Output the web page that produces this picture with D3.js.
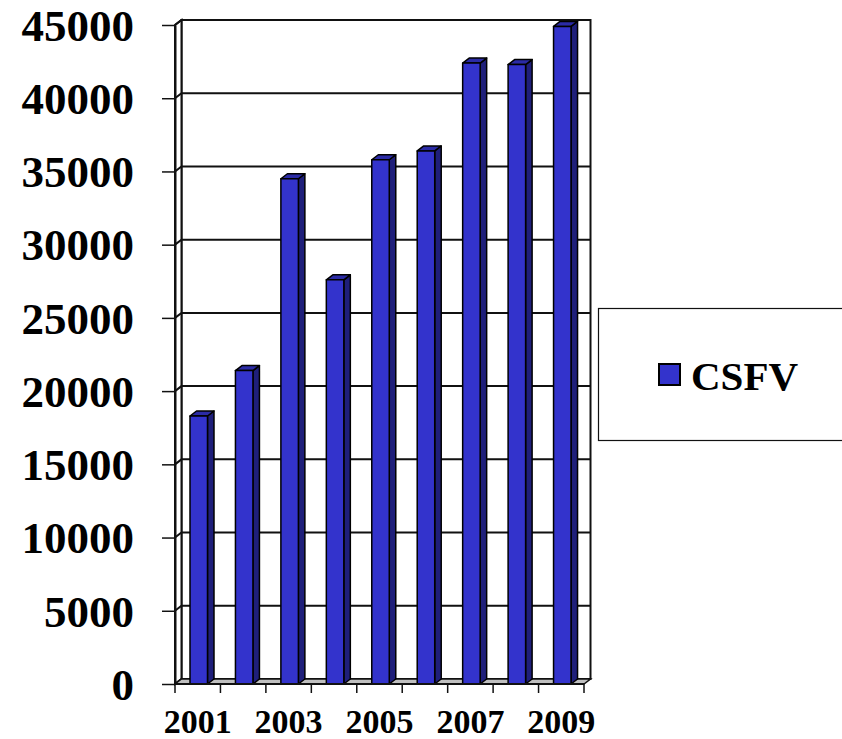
<!DOCTYPE html>
<html>
<head>
<meta charset="utf-8">
<script src="https://cdn.jsdelivr.net/npm/d3@7"></script>
<style>
  html, body { margin: 0; padding: 0; background: #fff; }
  svg { display: block; }
  text { font-family: "Liberation Serif", "Times New Roman", serif; font-weight: bold; fill: #000; }
</style>
</head>
<body>
<svg id="chart" width="842" height="739"></svg>
<script>
// Yearly counts, one bar per year
const years = ["2001", "2002", "2003", "2004", "2005", "2006", "2007", "2008", "2009"];
const values = [18300, 21400, 34500, 27600, 35800, 36400, 42400, 42300, 44900];
const yTicks = [0, 5000, 10000, 15000, 20000, 25000, 30000, 35000, 40000, 45000];
const xTickLabels = ["2001", "2003", "2005", "2007", "2009"];
const seriesName = "CSFV";

const svg = d3.select("#chart");

// plot geometry: front plane plus a shallow depth offset
const plotLeft = 175, plotRight = 584, plotBottom = 684, plotTop = 25;
const dx = 6.5, dy = -5;

const x = d3.scaleBand().domain(years).range([plotLeft, plotRight]).paddingInner(0).paddingOuter(0);
const y = d3.scaleLinear().domain([0, 45000]).range([plotBottom, plotTop]);

const frontCol = "#3333cc", sideCol = "#1f1f7a", topCol = "#2b2ba6";
const line = d3.line();

// back wall
svg.append("rect")
  .attr("x", plotLeft + dx).attr("y", plotTop + dy)
  .attr("width", plotRight - plotLeft).attr("height", plotBottom - plotTop)
  .attr("fill", "#fff").attr("stroke", "#111").attr("stroke-width", 2);

// left side wall
svg.append("path")
  .attr("d", line([[plotLeft, plotBottom], [plotLeft, plotTop], [plotLeft + dx, plotTop + dy], [plotLeft + dx, plotBottom + dy]]) + "Z")
  .attr("fill", "#fff").attr("stroke", "#111").attr("stroke-width", 2);

// gridlines on the side wall and back wall
const grid = svg.append("g").attr("stroke", "#111").attr("stroke-width", 2).attr("fill", "none");
yTicks.forEach(v => {
  const yy = y(v);
  grid.append("path").attr("d", line([[plotLeft, yy], [plotLeft + dx, yy + dy], [plotRight + dx, yy + dy]]));
});

// floor
svg.append("path")
  .attr("d", line([[plotLeft, plotBottom], [plotRight, plotBottom], [plotRight + dx, plotBottom + dy], [plotLeft + dx, plotBottom + dy]]) + "Z")
  .attr("fill", "#c0c0c0").attr("stroke", "#111").attr("stroke-width", 1.5);

// columns
const bw = x.bandwidth() * 0.385;
const off = x.bandwidth() * 0.33;
const bars = svg.append("g").attr("stroke", "#000").attr("stroke-width", 1.5).attr("stroke-linejoin", "round");
years.forEach((yr, i) => {
  const x0 = x(yr) + off, x1 = x0 + bw;
  const yt = y(values[i]), yb = y(0);
  // side face
  bars.append("path")
    .attr("d", line([[x1, yb], [x1, yt], [x1 + dx, yt + dy], [x1 + dx, yb + dy]]) + "Z")
    .attr("fill", sideCol);
  // top face
  bars.append("path")
    .attr("d", line([[x0, yt], [x1, yt], [x1 + dx, yt + dy], [x0 + dx, yt + dy]]) + "Z")
    .attr("fill", topCol);
  // front face
  bars.append("rect")
    .attr("x", x0).attr("y", yt).attr("width", bw).attr("height", yb - yt)
    .attr("fill", frontCol);
});

// value axis
const yAxis = svg.append("g")
  .attr("transform", `translate(${plotLeft},0)`)
  .call(d3.axisLeft(y).tickValues(yTicks).tickSize(13).tickSizeOuter(0).tickPadding(28).tickFormat(d3.format("d")));
yAxis.select(".domain").attr("stroke", "#111").attr("stroke-width", 2);
yAxis.selectAll(".tick line").attr("stroke", "#111").attr("stroke-width", 1.5);
yAxis.selectAll(".tick text")
  .style("font-family", '"Liberation Serif", "Times New Roman", serif')
  .style("font-weight", "bold").style("font-size", "45px").attr("fill", "#000").attr("dy", "0.34em");

// category axis: front edge, boundary ticks, and labels under every other year
svg.append("line")
  .attr("x1", plotLeft).attr("x2", plotRight).attr("y1", plotBottom).attr("y2", plotBottom)
  .attr("stroke", "#111").attr("stroke-width", 2);
const bounds = years.map(yr => x(yr)).concat([plotRight]);
svg.append("g").selectAll("line").data(bounds).join("line")
  .attr("x1", d => d).attr("x2", d => d).attr("y1", plotBottom).attr("y2", plotBottom + 9)
  .attr("stroke", "#111").attr("stroke-width", 1.5);

const xAxis = svg.append("g")
  .attr("transform", `translate(0,${plotBottom})`)
  .call(d3.axisBottom(x).tickValues(xTickLabels).tickSize(0).tickPadding(25));
xAxis.select(".domain").remove();
xAxis.selectAll(".tick text")
  .style("font-family", '"Liberation Serif", "Times New Roman", serif')
  .style("font-weight", "bold").style("font-size", "34px").attr("fill", "#000");

// legend
const lg = svg.append("g");
lg.append("rect").attr("x", 598.5).attr("y", 308.5).attr("width", 260).attr("height", 132)
  .attr("fill", "#fff").attr("stroke", "#111").attr("stroke-width", 1.2);
lg.append("rect").attr("x", 659).attr("y", 364).attr("width", 21).attr("height", 21)
  .attr("fill", frontCol).attr("stroke", "#000").attr("stroke-width", 2);
lg.append("text").attr("x", 691).attr("y", 389.5)
  .style("font-size", "41px").text(seriesName);
</script>
</body>
</html>
